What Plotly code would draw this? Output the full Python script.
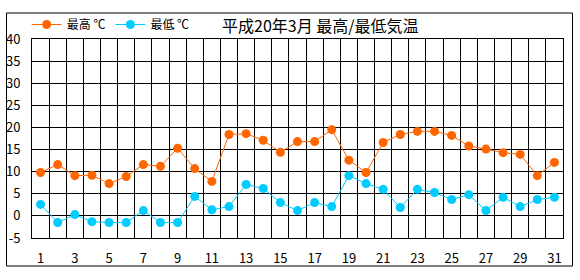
import plotly.graph_objects as go

days = list(range(1, 32))
tmax = [9.8, 11.6, 9.1, 9.2, 7.3, 8.9, 11.6, 11.2, 15.3, 10.7,
        7.8, 18.4, 18.6, 17.1, 14.4, 16.8, 16.8, 19.5, 12.6, 9.8,
        16.6, 18.4, 19.1, 19.1, 18.2, 15.8, 15.1, 14.3, 13.9, 9.1, 12.1]
tmin = [2.6, -1.5, 0.3, -1.3, -1.5, -1.5, 1.2, -1.5, -1.5, 4.4,
        1.4, 2.1, 7.1, 6.2, 3.0, 1.2, 3.0, 2.1, 9.1, 7.3,
        6.0, 1.9, 6.0, 5.3, 3.7, 4.8, 1.2, 4.2, 2.1, 3.7, 4.2]
x_ticks = list(range(1, 32, 2))
y_ticks = list(range(-5, 41, 5))
title = "平成20年3月 最高/最低気温"
names = ["最高 ℃", "最低 ℃"]
colors = ["#FF6600", "#00CCFF"]

FONT = "Noto Sans CJK JP"

fig = go.Figure()
for ys, nm, c in zip([tmax, tmin], names, colors):
    fig.add_trace(go.Scatter(
        x=days, y=ys, name=nm, mode="lines+markers",
        line=dict(color=c, width=1),
        marker=dict(color=c, size=9, symbol="circle"),
    ))

fig.update_layout(
    width=580, height=280,
    margin=dict(l=32, r=17, t=39, b=42, autoexpand=False),
    paper_bgcolor="white", plot_bgcolor="white",
    font=dict(family=FONT, size=12, color="black"),
    showlegend=True,
    legend=dict(orientation="h", x=-0.01, y=1.0, xanchor="left", yanchor="bottom",
                font=dict(size=12, family=FONT), itemwidth=30,
                bgcolor="rgba(0,0,0,0)", tracegroupgap=0, traceorder="normal"),
    annotations=[dict(text=title, xref="paper", yref="paper",
                      x=(320 - 32) / 531, y=(238 - 25) / 199,
                      xanchor="center", yanchor="middle", showarrow=False,
                      font=dict(size=16, family=FONT, color="black"))],
    shapes=[dict(type="rect", xref="paper", yref="paper",
                 x0=(6.5 - 32) / 531, x1=(572.5 - 32) / 531,
                 y0=(238 - 266) / 199, y1=(238 - 13) / 199,
                 line=dict(color="black", width=1), layer="below")],
)

fig.update_xaxes(
    range=[0.5, 31.5], tickmode="array", tickvals=x_ticks,
    ticktext=[str(v) for v in x_ticks], showgrid=False,
    ticks="outside", ticklen=8, tickcolor="rgba(0,0,0,0)",
    showline=True, linecolor="black", linewidth=1, mirror=True,
    zeroline=False, tickfont=dict(size=13, family=FONT),
    minor=dict(tick0=0.5, dtick=1, showgrid=True, gridcolor="black", gridwidth=1, ticks=""),
)
fig.update_yaxes(
    range=[-5, 40], tickmode="array", tickvals=y_ticks,
    ticktext=[str(v) for v in y_ticks], showgrid=True,
    gridcolor="black", gridwidth=1,
    ticks="outside", ticklen=8, tickcolor="rgba(0,0,0,0)",
    showline=True, linecolor="black", linewidth=1, mirror=True,
    zeroline=False, tickfont=dict(size=13, family=FONT),
)

fig.write_html("out.html")
